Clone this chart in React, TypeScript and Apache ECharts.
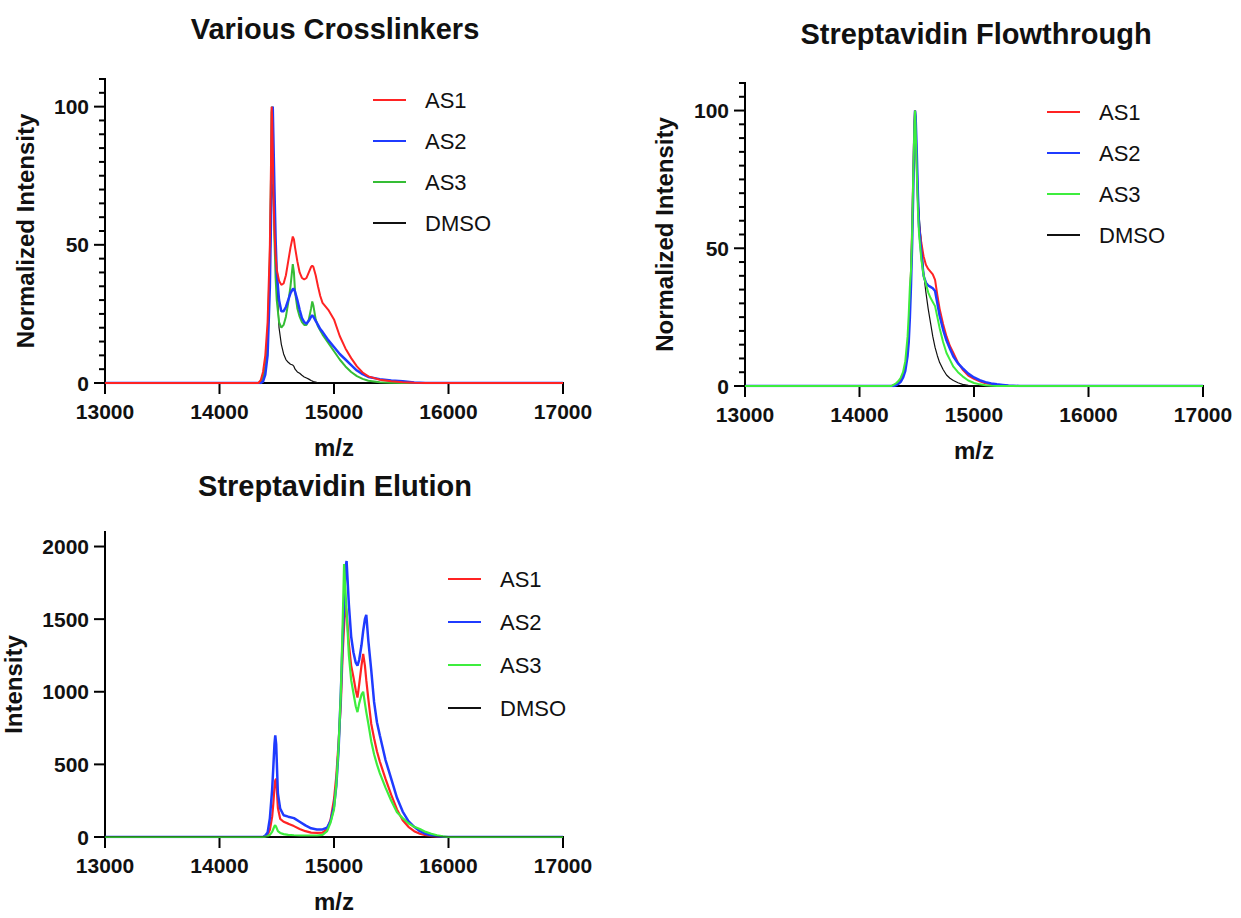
import React, { useEffect, useRef } from "react";
import * as echarts from "echarts";

const FONT = '"Liberation Sans", Arial, Helvetica, sans-serif';

// ---------- Panel 1: Various Crosslinkers (normalized) ----------
const p1X = [13000, 14000, 14340, 14360, 14380, 14400, 14420, 14440, 14450, 14455, 14460, 14465, 14470, 14480, 14490, 14500, 14520, 14540, 14560, 14580, 14600, 14620, 14640, 14650, 14660, 14680, 14700, 14720, 14740, 14760, 14780, 14800, 14810, 14820, 14840, 14860, 14880, 14900, 14950, 15000, 15050, 15100, 15150, 15200, 15250, 15300, 15400, 15500, 15600, 15700, 15800, 16000, 17000];
const p1AS1 = [0, 0, 0, 1, 4, 10, 22, 50, 80, 100, 96, 85, 70, 55, 46, 41, 37, 35.5, 36, 39, 44, 49, 53, 52, 49, 44, 40, 38, 37.5, 38, 40, 42, 42.5, 42, 39, 35, 31.5, 29, 26.5, 23, 17, 12.5, 9, 6, 3.8, 2.4, 1.2, 0.6, 0.3, 0.1, 0, 0, 0];
const p1AS2 = [0, 0, 0, 0, 0.5, 3, 10, 35, 60, 80, 98, 100, 90, 70, 52, 40, 30, 26, 26, 27.5, 30, 32.5, 34, 34, 33, 30, 26.5, 23.5, 22, 21.5, 22.5, 24, 24.5, 24, 22.5, 21, 19.5, 18.5, 15.5, 13, 10.5, 8.5, 6.5, 4.5, 3.2, 2.2, 1.4, 0.9, 0.6, 0.2, 0, 0, 0];
const p1AS3 = [0, 0, 0, 0.5, 2, 6, 16, 45, 75, 98, 100, 88, 72, 52, 38, 30, 22, 20, 21, 24, 29, 35, 43, 40, 33, 27, 24, 22, 21, 21, 23, 27, 29.5, 28, 23, 20.5, 19, 17.5, 14.5, 11.5, 8.5, 6, 4, 2.5, 1.5, 0.8, 0.3, 0.1, 0, 0, 0, 0, 0];
const p1DMSO = [0, 0, 0, 0.5, 2, 6, 15, 40, 58, 66, 70, 72, 68, 60, 48, 38, 20, 14, 10.5, 8.5, 7.5, 6.8, 6.5, 6, 5, 4, 3.5, 2.8, 2.2, 1.8, 1.4, 0.9, 0.7, 0.5, 0.3, 0.1, 0, 0, 0, 0, 0, 0, 0, 0, 0, 0, 0, 0, 0, 0, 0, 0, 0];

// ---------- Panel 2: Streptavidin Flowthrough (normalized) ----------
const p2X = [13000, 14000, 14280, 14300, 14320, 14340, 14360, 14380, 14400, 14420, 14430, 14440, 14450, 14460, 14470, 14480, 14485, 14490, 14500, 14510, 14520, 14540, 14560, 14580, 14600, 14620, 14640, 14660, 14680, 14700, 14730, 14760, 14790, 14820, 14860, 14900, 14950, 15000, 15050, 15100, 15150, 15200, 15250, 15300, 15400, 16000, 17000];
const p2AS1 = [0, 0, 0, 0.3, 0.8, 1.5, 2.5, 4, 7, 14, 20, 30, 42, 58, 78, 96, 100, 95, 80, 68, 58, 52, 47, 44, 42.5, 41.5, 40.5, 38.5, 33, 28, 22.5, 18, 14.5, 12, 8.5, 6, 3.8, 2.6, 1.7, 1.0, 0.6, 0.4, 0.2, 0.1, 0, 0, 0];
const p2AS2 = [0, 0, 0, 0, 0.3, 0.8, 1.5, 3, 5.5, 11, 16, 25, 37, 52, 72, 94, 100, 98, 85, 70, 58, 48, 40, 37.5, 36.5, 36, 35.5, 34.5, 30, 25.5, 20.5, 16.5, 13.5, 10.7, 8.2, 6.5, 4.5, 3.1, 2.1, 1.4, 0.9, 0.6, 0.4, 0.2, 0, 0, 0];
const p2AS3 = [0, 0, 0, 0.5, 1, 1.8, 3, 5, 9, 18, 26, 36, 42, 56, 78, 95, 100, 94, 78, 64, 55, 46, 40, 37, 34, 32, 30.5, 29, 25, 21, 16, 12, 9.5, 7, 5, 3.5, 2, 1.1, 0.6, 0.3, 0.1, 0, 0, 0, 0, 0, 0];
const p2DMSO = [0, 0, 0, 0.3, 0.8, 1.5, 2.5, 4, 7, 14, 20, 30, 42, 58, 78, 96, 100, 94, 78, 68, 62, 52, 41, 34, 28, 23, 18, 14, 11, 8.5, 6, 4, 2.8, 2, 1.2, 0.6, 0.2, 0, 0, 0, 0, 0, 0, 0, 0, 0, 0];

// ---------- Panel 3: Streptavidin Elution (raw intensity) ----------
const p3X = [13000, 14000, 14380, 14400, 14420, 14440, 14460, 14470, 14480, 14487, 14495, 14510, 14530, 14560, 14600, 14650, 14700, 14750, 14800, 14850, 14900, 14940, 14970, 15000, 15020, 15040, 15060, 15075, 15088, 15100, 15110, 15130, 15150, 15170, 15190, 15205, 15220, 15240, 15255, 15270, 15282, 15300, 15325, 15350, 15375, 15400, 15450, 15500, 15550, 15600, 15650, 15700, 15750, 15800, 15850, 15900, 15950, 16000, 17000];
const p3AS1 = [0, 0, 0, 5, 15, 50, 140, 230, 340, 390, 400, 200, 125, 105, 92, 75, 55, 40, 30, 28, 30, 55, 120, 260, 420, 650, 920, 1250, 1450, 1600, 1550, 1330, 1180, 1100, 1010, 960, 1050, 1180, 1260, 1180, 1080, 950, 780, 680, 590, 520, 400, 290, 190, 115, 70, 40, 22, 12, 6, 2, 0, 0, 0];
const p3AS2 = [0, 0, 0, 10, 30, 130, 330, 480, 640, 700, 640, 300, 195, 150, 140, 130, 105, 80, 60, 52, 52, 65, 110, 210, 350, 600, 1000, 1350, 1600, 1850, 1900, 1600, 1380, 1270, 1200, 1180, 1220, 1320, 1420, 1500, 1530, 1350, 1150, 930, 790, 700, 530, 400, 270, 175, 110, 70, 40, 22, 12, 5, 2, 0, 0];
const p3AS3 = [0, 0, 0, 2, 5, 15, 35, 55, 75, 80, 70, 40, 28, 20, 15, 12, 10, 9, 9, 10, 15, 40, 100, 190, 360, 620, 1000, 1450, 1880, 1700, 1550, 1250, 1080, 990, 900, 860, 920, 980, 1000, 920, 860, 780, 660, 570, 500, 440, 340, 250, 170, 130, 95, 70, 55, 35, 22, 12, 4, 0, 0];
const p3DmsoX = [13000, 17000];
const p3DMSO = [0, 0];

// ---------- Axis ranges and tick values ----------
const X_MIN = 13000;
const X_MAX = 17000;
const X_STEP = 1000;
const xTickValues = [13000, 14000, 15000, 16000, 17000];
const NORM_TOP = 110;
const NORM_LABEL_STEP = 50;
const normMajorTicks = [0, 50, 100];
const normMinorTicks = [5, 10, 15, 20, 25, 30, 35, 40, 45, 55, 60, 65, 70, 75, 80, 85, 90, 95, 105, 110];
const ELU_TOP = 2100;
const ELU_STEP = 500;
const eluMajorTicks = [0, 500, 1000, 1500, 2000];

const RED = "#ff2323";
const BLUE = "#1f3bff";
const GREEN_DARK = "#35bd35";
const GREEN = "#3ded3d";
const BLACK = "#111111";

const zip = (xs: number[], ys: number[]) => xs.map((x, i) => [x, ys[i]]);

// frame rows: [x, y, kind, arg]  kind 0 = x tick (arg = length px), 1 = y tick (arg = length px),
// 2 = x axis line (arg = end x value), 3 = y axis line (arg = end y value)
const frameRows = (yTop: number, major: number[], minor: number[]) => [
  [X_MIN, 0, 2, X_MAX],
  [X_MIN, 0, 3, yTop],
  ...xTickValues.map((v) => [v, 0, 0, 10]),
  ...major.map((v) => [X_MIN, v, 1, 10]),
  ...minor.map((v) => [X_MIN, v, 1, 5]),
];

export default function App() {
  const ref = useRef<HTMLDivElement>(null);
  useEffect(() => {
    if (!ref.current) return;
    const chart = echarts.init(ref.current, undefined, { renderer: "svg" });

    const labelStyle = () => ({ fontSize: 21, fontWeight: "bold", color: "#111111", fontFamily: FONT });
    const nameStyle = () => ({ fontSize: 24, fontWeight: "bold", color: "#111111", fontFamily: FONT });

    const grids = [
      { left: 105, top: 79, width: 458, height: 304 },
      { left: 745, top: 83, width: 458, height: 303 },
      { left: 105, top: 532, width: 458, height: 305 },
    ];

    const xAxes = [0, 1, 2].map((gi) => ({
      type: "value",
      gridIndex: gi,
      min: X_MIN,
      max: X_MAX,
      interval: X_STEP,
      name: "m/z",
      nameLocation: "middle",
      nameGap: 52,
      nameTextStyle: nameStyle(),
      axisLine: { show: false },
      axisTick: { show: false },
      axisLabel: { ...labelStyle(), margin: 18, formatter: (v: number) => String(v) },
      splitLine: { show: false },
    }));

    const normY = (gi: number, gap: number) => ({
      type: "value",
      gridIndex: gi,
      min: 0,
      max: NORM_TOP,
      interval: NORM_LABEL_STEP,
      name: "Normalized Intensity",
      nameLocation: "middle",
      nameGap: gap,
      nameTextStyle: nameStyle(),
      axisLine: { show: false },
      axisTick: { show: false },
      axisLabel: { ...labelStyle(), margin: 16, formatter: (v: number) => (v <= 100 ? String(v) : "") },
      splitLine: { show: false },
    });

    const eluY = {
      type: "value",
      gridIndex: 2,
      min: 0,
      max: ELU_TOP,
      interval: ELU_STEP,
      name: "Intensity",
      nameLocation: "middle",
      nameGap: 80,
      nameTextStyle: nameStyle(),
      axisLine: { show: false },
      axisTick: { show: false },
      axisLabel: { ...labelStyle(), margin: 16, formatter: (v: number) => (v <= 2000 ? String(v) : "") },
      splitLine: { show: false },
    };

    const yAxes = [normY(0, 68), normY(1, 69), eluY];

    const frameSeries = (ai: number, rows: number[][]) => ({
      type: "custom",
      coordinateSystem: "cartesian2d",
      xAxisIndex: ai,
      yAxisIndex: ai,
      silent: true,
      z: 1,
      clip: false,
      dimensions: ["x", "y", "kind", "arg"],
      encode: { x: 0, y: 1 },
      data: rows,
      renderItem: (_params: any, api: any) => {
        const x = api.value(0);
        const y = api.value(1);
        const kind = api.value(2);
        const arg = api.value(3);
        const p = api.coord([x, y]);
        const style = { stroke: "#000000", lineWidth: 2, lineCap: "square" };
        let shape;
        if (kind === 0) shape = { x1: p[0], y1: p[1], x2: p[0], y2: p[1] + arg };
        else if (kind === 1) shape = { x1: p[0] - arg, y1: p[1], x2: p[0], y2: p[1] };
        else if (kind === 2) {
          const q = api.coord([arg, y]);
          shape = { x1: p[0], y1: p[1], x2: q[0], y2: q[1] };
        } else {
          const q = api.coord([x, arg]);
          shape = { x1: p[0], y1: p[1], x2: q[0], y2: q[1] };
        }
        return { type: "line", shape, style };
      },
    });

    const line = (name: string, color: string, width: number, xs: number[], ys: number[], ai: number) => ({
      type: "line",
      name,
      xAxisIndex: ai,
      yAxisIndex: ai,
      data: zip(xs, ys),
      showSymbol: false,
      symbol: "none",
      silent: true,
      z: 3,
      color,
      lineStyle: { color, width },
    });

    const legend = (left: number, top: number, gap: number, green: string) => ({
      orient: "vertical",
      left,
      top,
      padding: 0,
      itemGap: gap,
      itemWidth: 33,
      itemHeight: 2,
      icon: "rect",
      selectedMode: false,
      itemStyle: { borderWidth: 0 },
      textStyle: { fontSize: 22, color: "#111", fontFamily: FONT, padding: [0, 0, 0, 14] },
      data: [
        { name: "AS1", itemStyle: { color: RED, borderWidth: 0 } },
        { name: "AS2", itemStyle: { color: BLUE, borderWidth: 0 } },
        { name: "AS3", itemStyle: { color: green, borderWidth: 0 } },
        { name: "DMSO", itemStyle: { color: BLACK, borderWidth: 0 } },
      ],
    });

    const title = (text: string, x: number, y: number) => ({
      type: "text",
      x,
      y,
      style: {
        text,
        font: `bold 29px ${FONT}`,
        fill: "#111",
        align: "center",
        verticalAlign: "middle",
      },
    });

    const option = {
      animation: false,
      backgroundColor: "#ffffff",
      grid: grids,
      xAxis: xAxes,
      yAxis: yAxes,
      legend: [legend(373, 89, 19, GREEN_DARK), legend(1047, 101, 19, GREEN), legend(448, 568, 21, GREEN)],
      graphic: [
        title("Various Crosslinkers", 335, 29),
        title("Streptavidin Flowthrough", 976, 34),
        title("Streptavidin Elution", 335, 486),
      ],
      series: [
        frameSeries(0, frameRows(NORM_TOP, normMajorTicks, normMinorTicks)),
        frameSeries(1, frameRows(NORM_TOP, normMajorTicks, normMinorTicks)),
        frameSeries(2, frameRows(ELU_TOP, eluMajorTicks, [])),

        line("DMSO", BLACK, 1.2, p1X, p1DMSO, 0),
        line("AS3", GREEN_DARK, 2, p1X, p1AS3, 0),
        line("AS2", BLUE, 2.5, p1X, p1AS2, 0),
        line("AS1", RED, 2, p1X, p1AS1, 0),

        line("DMSO", BLACK, 1.2, p2X, p2DMSO, 1),
        line("AS1", RED, 2, p2X, p2AS1, 1),
        line("AS2", BLUE, 2.5, p2X, p2AS2, 1),
        line("AS3", GREEN, 2, p2X, p2AS3, 1),

        line("AS1", RED, 2.2, p3X, p3AS1, 2),
        line("AS2", BLUE, 2.5, p3X, p3AS2, 2),
        line("AS3", GREEN, 2.2, p3X, p3AS3, 2),
        line("DMSO", BLACK, 1.2, p3DmsoX, p3DMSO, 2),
      ],
    };

    chart.setOption(option as any);
    return () => chart.dispose();
  }, []);

  return (
    <div
      ref={ref}
      style={{ position: "fixed", left: 0, top: 0, width: 1241, height: 918, background: "#fff" }}
    />
  );
}
